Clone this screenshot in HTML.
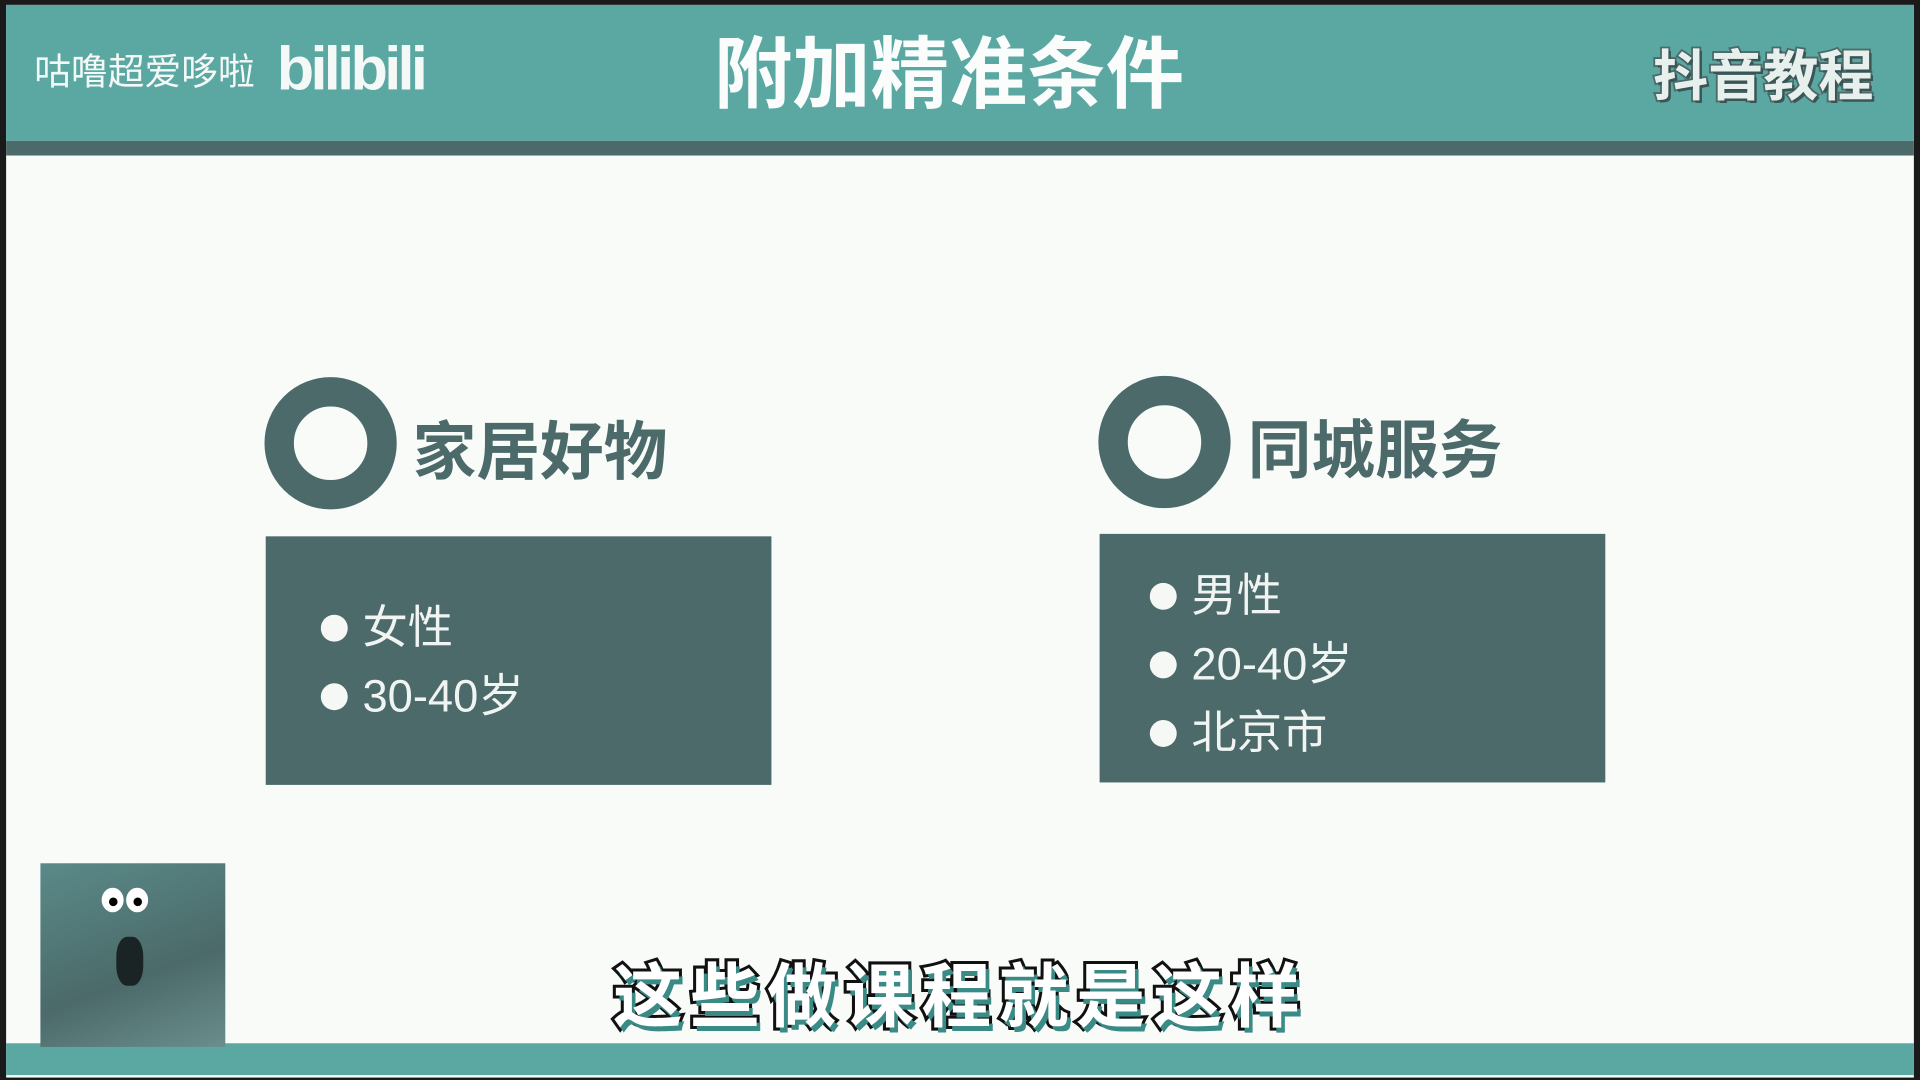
<!DOCTYPE html>
<html><head><meta charset="utf-8"><style>
html,body{margin:0;padding:0;width:1920px;height:1080px;overflow:hidden;background:#111;}
#s{position:absolute;left:0;top:0;width:1568px;height:882px;transform:scale(1.22449);transform-origin:0 0;background:#1a1a1a;font-family:"Liberation Sans","Noto Sans CJK SC",sans-serif;}
.a{position:absolute;}
.cn{font-family:"Liberation Sans","Noto Sans CJK SC",sans-serif;}
.ring{position:absolute;width:60px;height:60px;border:24px solid #4b6a69;border-radius:50%;background:#f9fbf9;}
.box{position:absolute;background:#4b6a69;width:413px;height:203px;}
.dot{position:absolute;width:22px;height:22px;border-radius:50%;background:#f6f8f6;}
.it{position:absolute;color:#f0f4f2;font-size:37px;line-height:40px;white-space:nowrap;}
.h{position:absolute;color:#4b6a69;font-size:52px;font-weight:bold;line-height:56px;white-space:nowrap;}
</style></head><body>
<div id="s">
<div class="a" style="left:5px;top:4px;width:1558px;height:876px;background:#f9fbf9;"></div>
<div class="a" style="left:5px;top:4px;width:1558px;height:111px;background:#5ba8a3;"></div>
<div class="a" style="left:5px;top:115px;width:1558px;height:12px;background:#4b6a69;"></div>
<div class="a cn" style="left:28px;top:42px;font-size:30px;line-height:36px;color:#f4f8f6;white-space:nowrap;">咕噜超爱哆啦</div>
<div class="a" style="left:226px;top:28px;font-size:50px;line-height:56px;color:#f4f8f6;font-weight:bold;letter-spacing:-3px;">bilibili</div>
<div class="a cn" style="left:560px;top:25px;width:430px;text-align:center;font-size:64px;line-height:72px;font-weight:bold;color:#fbfdfc;white-space:nowrap;">附加精准条件</div>
<div class="a cn" style="left:1350px;top:36px;font-size:45px;line-height:54px;font-weight:bold;color:#e8f0ee;-webkit-text-stroke:3px #4b6a69;paint-order:stroke fill;text-shadow:2px 2px 0 #3a5553;white-space:nowrap;">抖音教程</div>

<div class="ring" style="left:216px;top:308px;"></div>
<div class="h cn" style="left:337px;top:342px;">家居好物</div>
<div class="box" style="left:217px;top:438px;"></div>
<div class="dot" style="left:262px;top:502px;"></div>
<div class="it cn" style="left:296px;top:493px;">女性</div>
<div class="dot" style="left:262px;top:558px;"></div>
<div class="it cn" style="left:296px;top:549px;">30-40岁</div>

<div class="ring" style="left:897px;top:307px;"></div>
<div class="h cn" style="left:1019px;top:341px;">同城服务</div>
<div class="box" style="left:898px;top:436px;"></div>
<div class="dot" style="left:939px;top:476px;"></div>
<div class="it cn" style="left:973px;top:467px;">男性</div>
<div class="dot" style="left:939px;top:532px;"></div>
<div class="it cn" style="left:973px;top:523px;">20-40岁</div>
<div class="dot" style="left:939px;top:588px;"></div>
<div class="it cn" style="left:973px;top:579px;">北京市</div>

<div class="a" style="left:5px;top:852px;width:1558px;height:26px;background:#5ba8a3;"></div>
<div class="a" style="left:33px;top:705px;width:151px;height:150px;background:linear-gradient(160deg,#5a8a88,#4b6a69 60%,#6a8e8c);">
  <div class="a" style="left:50px;top:20px;width:18px;height:20px;border-radius:50%;background:#fff;"></div>
  <div class="a" style="left:70px;top:20px;width:18px;height:20px;border-radius:50%;background:#fff;"></div>
  <div class="a" style="left:56px;top:28px;width:7px;height:7px;border-radius:50%;background:#000;"></div>
  <div class="a" style="left:76px;top:28px;width:7px;height:7px;border-radius:50%;background:#000;"></div>
  <div class="a" style="left:62px;top:60px;width:22px;height:40px;border-radius:40%;background:#1a2424;"></div>
</div>
<div class="a cn" style="left:454px;top:780px;width:660px;text-align:center;font-size:57px;line-height:70px;font-weight:bold;color:#fff;-webkit-text-stroke:5px #111;paint-order:stroke fill;text-shadow:3px 4px 0 #3a8a86;white-space:nowrap;letter-spacing:6px;">这些做课程就是这样</div>
</div>
</body></html>
